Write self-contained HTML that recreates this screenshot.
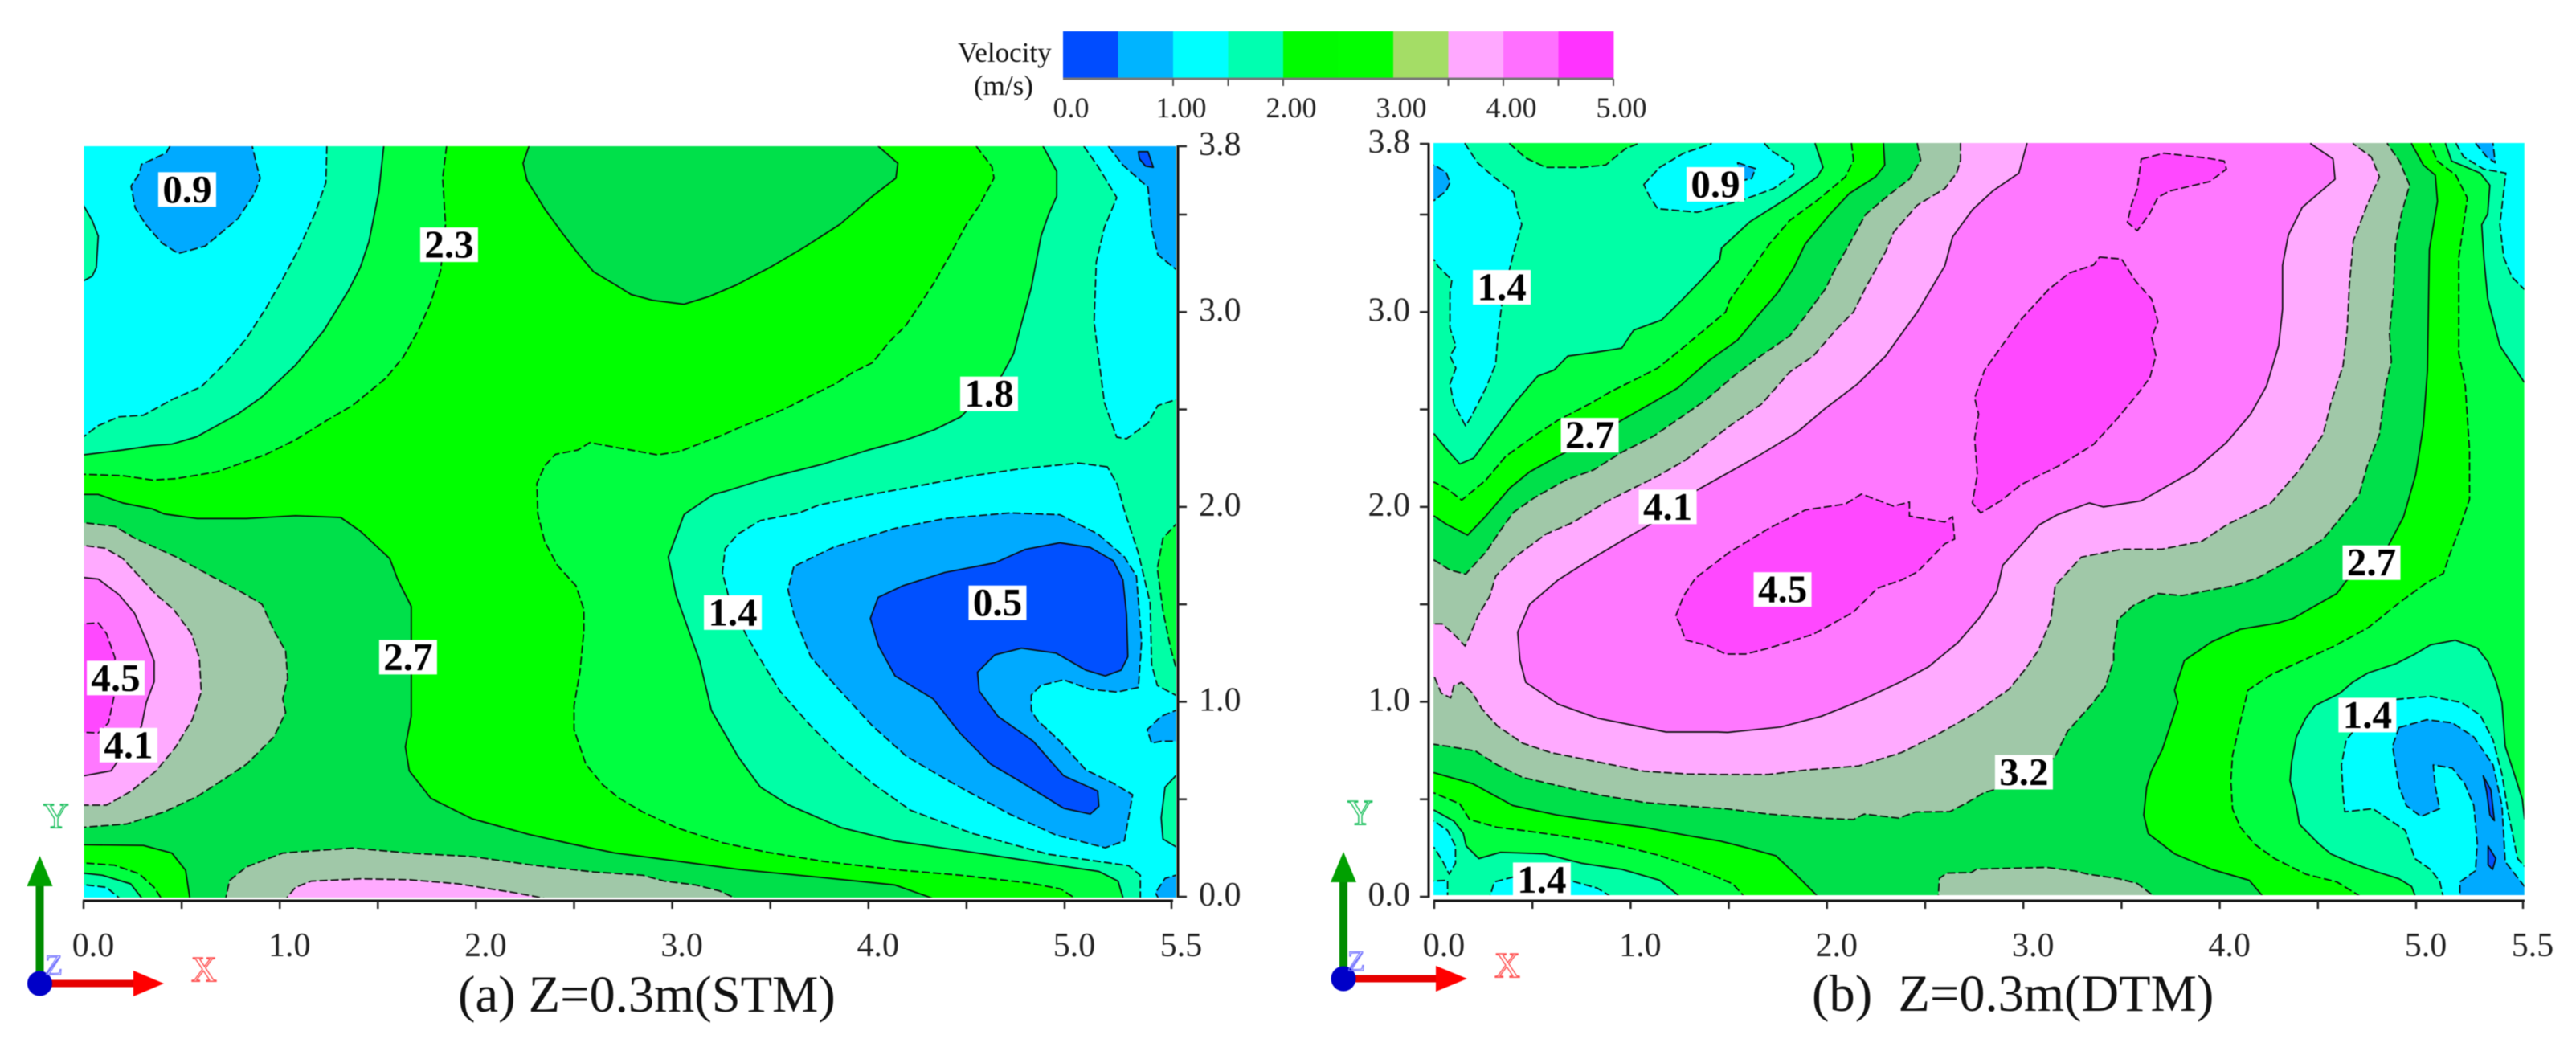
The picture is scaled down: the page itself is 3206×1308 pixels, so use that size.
<!DOCTYPE html>
<html lang="en">
<head>
<meta charset="utf-8">
<title>Velocity contours at Z=0.3m, STM and DTM</title>
<style>
html,body{margin:0;padding:0;background:#fff}
svg{display:block;filter:blur(.6px)}
text{font-family:"Liberation Serif",serif}
</style>
</head>
<body>
<svg id="chart" xmlns="http://www.w3.org/2000/svg" width="3206" height="1308" viewBox="0 0 3206 1308" fill="#111">
<rect width="3206" height="1308" fill="#fff"/>
<defs>
<clipPath id="clip-a"><rect x="104.6" y="182" width="1359" height="935"/></clipPath>
<clipPath id="clip-b"><rect x="1784" y="178" width="1357.6" height="936"/></clipPath>
</defs>
<g id="legend">
<text x="1192" y="77" font-size="35">Velocity</text>
<text x="1212" y="118" font-size="35">(m/s)</text>
</g>
<g id="panel-a"></g>
<g id="panel-b"></g>
<text x="570" y="1259" font-size="64.5">(a) Z=0.3m(STM)</text>
<text x="2255" y="1258" font-size="64.5">(b)&#160;&#160;Z=0.3m(DTM)</text>
</svg>
<script>
/* ---------- legend values ---------- */
const legendBins = [0,0.5,1,1.5,2,2.5,3,3.5,4,4.5];
const legendColors = ["#004cff","#00b4ff","#00ffff","#00ffb0","#00fc00","#00ff00","#a4dd66","#ffa8ff","#ff70ff","#ff33ff"];
const legendTickValues = [1,1.5,2,3.5,4,4.5,5];
const legendLabelValues = [0,1,2,3,4,5];
const legendLabels = ["0.0","1.00","2.00","3.00","4.00","5.00"];

/* ---------- axis values ---------- */
const xTickValues = [0,0.5,1,1.5,2,2.5,3,3.5,4,4.5,5,5.5];
const yTickValues = [0,0.5,1,1.5,2,2.5,3,3.5,3.8];
const xLabelValues = [0,1,2,3,4,5,5.5];
const xLabels = ["0.0","1.0","2.0","3.0","4.0","5.0","5.5"];
const yLabelValues = [0,1,2,3,3.8];
const yLabels = ["0.0","1.0","2.0","3.0","3.8"];

/* ---------- contour band fills, keyed by lower velocity bound ---------- */
const bandFill = {"0.0":"#0050ff","0.5":"#00aaff","0.9":"#00ffff","1.4":"#00ffa6","1.8":"#00ff40","2.3":"#00ff00","2.7":"#00e04a","3.2":"#a0c8a8","3.6":"#ffaaff","4.1":"#ff78ff","4.5":"#ff48ff"};
const dashedLevels = ["0.5","0.9","1.8","2.3","3.2","3.6","4.5"];

/* ---------- (a) STM contours: x (m), y (m) ---------- */
const stmTopUpper23 = [[1.85,3.9],[1.85,3.80],[1.83,3.66],[1.845,3.45],[1.82,3.213],[1.77,3.05],[1.705,2.904],[1.63,2.77],[1.54,2.66],[1.37,2.52],[1.245,2.447],[1.08,2.344],[.93,2.27],[.83,2.233],[.68,2.18],[.47,2.145],[.35,2.138],[.2,2.16],[0,2.167],[-.1,2.167],[-.1,3.9]];
const stmRight23 = [[4.55,3.9],[4.55,3.80],[4.63,3.71],[4.64,3.66],[4.565,3.54],[4.50,3.45],[4.42,3.30],[4.335,3.15],[4.27,3.05],[4.19,2.93],[4.105,2.845],[4.02,2.74],[3.92,2.69],[3.83,2.63],[3.71,2.572],[3.58,2.506],[3.48,2.462],[3.35,2.41],[3.25,2.366],[3.13,2.32],[3.04,2.285],[2.925,2.267],[2.81,2.288],[2.666,2.314],[2.58,2.33],[2.52,2.292],[2.405,2.27],[2.35,2.21],[2.31,2.12],[2.315,1.964],[2.35,1.823],[2.415,1.70],[2.51,1.595],[2.55,1.472],[2.55,1.366],[2.53,1.155],[2.50,.98],[2.50,.857],[2.56,.68],[2.645,.575],[2.73,.505],[2.85,.435],[3.02,.355],[3.256,.277],[3.49,.227],[3.78,.18],[4.135,.139],[4.47,.11],[4.82,.07],[4.98,.04],[5.08,-.03],[5.7,-.03],[5.7,3.9]];
const stmUpper18 = [[1.53,3.9],[1.53,3.80],[1.505,3.6],[1.454,3.36],[1.41,3.228],[1.35,3.11],[1.224,2.904],[1.08,2.727],[.91,2.565],[.786,2.476],[.577,2.36],[.45,2.322],[.347,2.314],[.2,2.292],[0,2.267],[-.1,2.267],[-.1,3.9]];
const stmRight18 = [[4.89,3.9],[4.89,3.80],[4.96,3.69],[4.96,3.58],[4.92,3.505],[4.88,3.39],[4.83,3.125],[4.77,2.904],[4.74,2.786],[4.68,2.675],[4.47,2.462],[4.335,2.395],[4.19,2.344],[4.0,2.292],[3.77,2.22],[3.50,2.152],[3.27,2.08],[3.21,2.064],[3.08,1.975],[3.06,1.96],[2.98,1.743],[3.02,1.546],[3.14,1.21],[3.2,.956],[3.335,.72],[3.45,.562],[3.59,.473],[3.86,.355],[4.136,.286],[4.53,.228],[4.92,.168],[5.16,.13],[5.25,.08],[5.28,-.03],[5.7,-.03],[5.7,3.9]];
const stmUpper14 = [[1.24,3.9],[1.24,3.80],[1.235,3.64],[1.18,3.507],[1.1,3.33],[1.015,3.17],[.93,3.02],[.827,2.86],[.723,2.74],[.6,2.616],[.45,2.55],[.305,2.47],[.18,2.462],[.075,2.417],[0,2.36],[-.1,2.36],[-.1,3.9]];
const stmRightTop14 = [[5.09,3.9],[5.09,3.80],[5.157,3.71],[5.244,3.574],[5.186,3.434],[5.148,3.257],[5.138,2.948],[5.186,2.535],[5.244,2.358],[5.29,2.35],[5.39,2.43],[5.436,2.52],[5.52,2.55],[5.7,2.55],[5.7,3.9]];
const stmRightLow14 = [[5.2,2.205],[5.066,2.225],[4.78,2.196],[4.507,2.156],[4.25,2.107],[3.98,2.058],[3.745,2.009],[3.647,1.969],[3.45,1.93],[3.335,1.861],[3.27,1.786],[3.256,1.664],[3.286,1.546],[3.374,1.35],[3.43,1.25],[3.55,1.054],[3.706,.877],[3.86,.72],[4.02,.582],[4.214,.444],[4.526,.326],[4.917,.218],[5.3,.159],[5.354,.11],[5.354,-.03],[5.7,-.03],[5.7,1.03],[5.52,1.034],[5.434,1.084],[5.407,1.192],[5.4,1.507],[5.345,1.763],[5.28,1.98],[5.246,2.117]];
const stmLeftPatch18 = [[-.1,3.54],[0,3.54],[.044,3.47],[.075,3.39],[.065,3.228],[.044,3.184],[0,3.16],[-.1,3.16]];
const stmEdgePatch23 = [[5.7,1.91],[5.52,1.91],[5.46,1.84],[5.434,1.684],[5.46,1.467],[5.497,1.27],[5.52,1.18],[5.7,1.18]];
const stmEdgePatch18 = [[5.7,.621],[5.52,.621],[5.47,.562],[5.452,.405],[5.46,.296],[5.52,.257],[5.7,.257]];
const stmTopLeft09 = [[.44,3.9],[.44,3.80],[.42,3.77],[.295,3.72],[.284,3.68],[.242,3.625],[.263,3.53],[.316,3.45],[.40,3.353],[.483,3.30],[.62,3.338],[.70,3.405],[.786,3.478],[.87,3.59],[.90,3.66],[.88,3.725],[.86,3.80],[.86,3.9]];
const stmTopRight09 = [[5.205,3.9],[5.205,3.80],[5.27,3.72],[5.39,3.62],[5.407,3.43],[5.436,3.294],[5.52,3.22],[5.7,3.22],[5.7,3.9]];
const stmMain09 = [[3.62,1.694],[3.59,1.576],[3.62,1.448],[3.706,1.231],[3.84,1.074],[4.02,.877],[4.194,.72],[4.448,.572],[4.72,.424],[4.956,.316],[5.19,.251],[5.28,.287],[5.318,.523],[5.228,.582],[5.10,.65],[4.976,.798],[4.86,.907],[4.83,.956],[4.83,1.034],[4.878,1.084],[4.995,1.113],[5.12,1.064],[5.246,1.05],[5.345,1.074],[5.36,1.31],[5.336,1.644],[5.28,1.743],[5.156,1.861],[4.976,1.96],[4.72,1.969],[4.39,1.94],[4.136,1.89],[3.82,1.792]];
const stmEdge09 = [[5.7,.956],[5.52,.956],[5.452,.926],[5.386,.857],[5.407,.788],[5.452,.798],[5.52,.798],[5.7,.798]];
const stmCorner09 = [[5.7,.11],[5.52,.11],[5.47,.094],[5.425,.02],[5.45,-.03],[5.7,-.03]];
const stmMain05 = [[4.05,1.536],[4.01,1.428],[4.05,1.29],[4.136,1.133],[4.33,1.015],[4.468,.838],[4.624,.68],[4.76,.60],[4.995,.454],[5.12,.424],[5.16,.464],[5.155,.542],[4.995,.621],[4.84,.798],[4.66,.926],[4.565,1.054],[4.556,1.152],[4.644,1.241],[4.78,1.275],[4.956,1.25],[5.1,1.162],[5.19,1.133],[5.264,1.162],[5.296,1.231],[5.29,1.448],[5.273,1.625],[5.228,1.723],[5.12,1.792],[4.976,1.816],[4.80,1.782],[4.644,1.713],[4.39,1.664],[4.175,1.595]];
const stmTop05 = [[5.345,3.776],[5.39,3.776],[5.415,3.707],[5.378,3.713],[5.35,3.745]];
const stmTop27 = [[2.27,3.9],[2.27,3.80],[2.24,3.725],[2.26,3.65],[2.35,3.525],[2.44,3.405],[2.52,3.30],[2.60,3.206],[2.71,3.14],[2.79,3.09],[2.9,3.06],[3.06,3.04],[3.19,3.08],[3.33,3.14],[3.5,3.23],[3.67,3.33],[3.855,3.45],[4.02,3.58],[4.14,3.66],[4.15,3.725],[4.05,3.80],[4.05,3.9]];
const stmLeft27 = [[-.1,2.064],[.075,2.064],[.2,2.02],[.35,1.99],[.41,1.964],[.58,1.94],[.83,1.94],[1.08,1.955],[1.31,1.946],[1.41,1.876],[1.56,1.735],[1.60,1.63],[1.67,1.49],[1.67,1.26],[1.67,1.085],[1.67,.927],[1.64,.769],[1.66,.646],[1.77,.505],[1.98,.40],[2.27,.32],[2.50,.268],[2.71,.224],[2.85,.206],[3.35,.139],[3.745,.10],[4.135,.06],[4.39,-.03],[.545,-.03],[.52,.136],[.45,.224],[.305,.263],[-.1,.268]];
const stmLeft32 = [[-.1,1.93],[.16,1.90],[.26,1.84],[.47,1.744],[.66,1.64],[.81,1.56],[.91,1.50],[.97,1.366],[1.03,1.26],[1.04,1.12],[1.015,1.015],[1.03,.945],[.97,.82],[.83,.68],[.70,.593],[.58,.514],[.41,.435],[.22,.373],[0,.356],[-.1,.356]];
const stmBottom32 = [[.72,-.03],[.744,.083],[.83,.153],[1.015,.224],[1.12,.232],[1.37,.25],[1.66,.224],[1.98,.206],[2.29,.162],[2.60,.127],[2.85,.11],[2.96,.08],[3.12,.06],[3.24,.03],[3.37,-.03]];
const stmLeft36 = [[-.1,1.815],[.11,1.788],[.2,1.735],[.28,1.648],[.37,1.55],[.46,1.472],[.55,1.35],[.59,1.226],[.6,1.05],[.555,.91],[.47,.769],[.37,.646],[.24,.54],[.117,.47],[-.1,.47]];
const stmBottom36 = [[1.015,-.03],[1.08,.048],[1.16,.08],[1.41,.092],[1.66,.087],[1.91,.066],[2.19,.022],[2.47,-.03]];
const stmLeft41 = [[-.1,1.648],[.075,1.63],[.18,1.55],[.26,1.454],[.32,1.314],[.36,1.208],[.36,1.103],[.32,.997],[.295,.874],[.2,.733],[.14,.646],[-.1,.602]];
const stmLeft45 = [[-.1,1.393],[.075,1.405],[.117,1.35],[.16,1.226],[.16,1.05],[.127,.892],[.075,.84],[-.1,.848]];
const stmCorner18 = [[-.1,.18],[.157,.162],[.283,.118],[.36,.048],[.41,-.03],[-.1,-.03]];
const stmCorner14 = [[-.1,.132],[.096,.11],[.24,.066],[.315,-.03],[-.1,-.03]];
const stmCorner09Low = [[-.1,.074],[.117,.048],[.21,-.03],[-.1,-.03]];

/* ---------- (b) DTM contours: x (m), y (m) ---------- */
const dtmUpper14 = [[1.94,3.9],[1.94,3.8],[1.98,3.70],[1.95,3.66],[1.81,3.576],[1.606,3.462],[1.463,3.328],[1.453,3.267],[1.36,3.164],[1.26,3.06],[1.158,2.959],[1.016,2.907],[.955,2.815],[.832,2.795],[.68,2.774],[.61,2.702],[.527,2.671],[.405,2.528],[.283,2.363],[.2,2.25],[.13,2.22],[.06,2.30],[0,2.374],[-.1,2.374],[-.1,3.9]];
const dtmTopLobe18 = [[.385,3.9],[.385,3.8],[.466,3.74],[.568,3.70],[.75,3.70],[.873,3.71],[.975,3.78],[1.036,3.8],[1.036,3.9]];
const dtmLower14 = [[-.1,.444],[0,.444],[.1,.388],[.148,.325],[.163,.26],[.227,.196],[.338,.228],[.56,.22],[.75,.172],[.957,.14],[1.147,.085],[1.29,-.03],[-.1,-.03]];
const dtmLeft09 = [[.157,3.9],[.157,3.8],[.22,3.72],[.303,3.66],[.405,3.593],[.425,3.508],[.446,3.45],[.405,3.307],[.375,3.185],[.344,3.04],[.324,2.877],[.313,2.733],[.263,2.61],[.19,2.466],[.16,2.415],[.1,2.528],[.08,2.63],[.11,2.712],[.08,2.774],[.11,2.825],[.08,2.918],[.08,3.10],[.09,3.164],[.018,3.236],[0,3.267],[-.1,3.267],[-.1,3.9]];
const dtmTopCenter09 = [[1.067,3.627],[1.148,3.70],[1.27,3.76],[1.41,3.8],[1.41,3.9],[1.683,3.9],[1.683,3.8],[1.718,3.77],[1.83,3.71],[1.83,3.67],[1.728,3.61],[1.565,3.56],[1.34,3.51],[1.138,3.525],[1.097,3.576]];
const dtmLowLeft09 = [[-.1,.388],[0,.388],[.068,.34],[.108,.26],[.108,.172],[.076,.116],[.044,.18],[0,.252],[-.1,.252]];
const dtmCornerLeft09 = [[-.1,.076],[.068,.084],[.068,-.03],[-.1,-.03]];
const dtmBottom09 = [[.274,-.03],[.306,.076],[.40,.10],[.51,.10],[.687,.084],[.83,.044],[.95,-.03]];
const dtmLeft05 = [[-.1,3.71],[0,3.71],[.06,3.68],[.08,3.636],[.06,3.60],[0,3.56],[-.1,3.56]];
const dtmTop05 = [[1.545,3.72],[1.636,3.695],[1.616,3.653],[1.565,3.644]];
const dtmLowRight14 = [[4.485,.98],[4.438,.916],[4.39,.82],[4.366,.692],[4.358,.596],[4.39,.468],[4.406,.372],[4.5,.276],[4.565,.22],[4.676,.172],[4.787,.132],[4.913,.092],[4.977,.052],[5.008,-.03],[5.7,-.03],[5.7,.40],[5.507,.40],[5.497,.50],[5.46,.628],[5.417,.772],[5.402,.996],[5.373,1.108],[5.337,1.204],[5.286,1.276],[5.184,1.316],[5.067,1.292],[4.993,1.244],[4.898,1.196],[4.755,1.148],[4.676,1.10],[4.612,1.044]];
const dtmLowRight09 = [[4.897,1.012],[5.067,1.028],[5.213,.996],[5.30,.932],[5.36,.804],[5.402,.628],[5.43,.436],[5.475,.196],[5.507,.156],[5.7,.156],[5.7,-.03],[5.133,-.03],[5.11,.08],[5.067,.14],[4.994,.196],[4.945,.34],[4.78,.452],[4.637,.436],[4.628,.524],[4.62,.676],[4.644,.804],[4.676,.844]];
const dtmLowRight05 = [[4.913,.868],[5.05,.908],[5.17,.892],[5.27,.82],[5.36,.676],[5.402,.468],[5.417,.18],[5.507,.052],[5.7,.052],[5.7,-.03],[5.205,-.03],[5.205,.076],[5.278,.133],[5.286,.276],[5.27,.468],[5.227,.58],[5.17,.66],[5.08,.676],[5.09,.564],[5.11,.452],[5.023,.412],[4.95,.468],[4.913,.564],[4.89,.708],[4.88,.772]];
const dtmDeepLow = [[5.337,.26],[5.373,.196],[5.358,.14],[5.337,.164]];
const dtmDeepMid = [[5.314,.62],[5.35,.548],[5.366,.39],[5.345,.42],[5.33,.54]];
const dtmUpRight14 = [[5.138,3.9],[5.138,3.8],[5.166,3.727],[5.30,3.676],[5.345,3.624],[5.335,3.503],[5.307,3.448],[5.317,3.28],[5.335,3.07],[5.392,2.827],[5.505,2.641],[5.7,2.641],[5.7,3.9]];
const dtmUpRight09 = [[5.188,3.9],[5.188,3.8],[5.222,3.745],[5.316,3.693],[5.42,3.676],[5.392,3.448],[5.41,3.28],[5.448,3.18],[5.505,3.117],[5.7,3.117],[5.7,3.9]];
const dtmUpRight05 = [[5.28,3.9],[5.28,3.8],[5.33,3.745],[5.37,3.72],[5.36,3.8],[5.36,3.9]];
const dtmGreen23 = [[2.125,3.9],[2.125,3.8],[2.135,3.73],[2.094,3.66],[1.95,3.56],[1.81,3.47],[1.708,3.35],[1.606,3.205],[1.504,3.06],[1.484,3.0],[1.362,2.897],[1.24,2.795],[1.138,2.712],[1.016,2.65],[.894,2.589],[.79,2.528],[.63,2.445],[.507,2.363],[.364,2.26],[.263,2.138],[.14,2.035],[.06,2.097],[0,2.127],[-.1,2.127],[-.1,.532],[0,.532],[.13,.476],[.18,.396],[.32,.356],[.45,.34],[.62,.316],[.83,.284],[.99,.252],[1.147,.212],[1.306,.156],[1.425,.107],[1.52,.066],[1.607,-.03],[4.72,-.03],[4.72,0],[4.596,.076],[4.438,.116],[4.28,.196],[4.18,.268],[4.105,.356],[4.065,.452],[4.057,.596],[4.065,.724],[4.105,.90],[4.144,1.06],[4.263,1.14],[4.44,1.22],[4.58,1.284],[4.755,1.38],[4.914,1.508],[5.05,1.612],[5.128,1.659],[5.156,1.752],[5.2,1.876],[5.25,2.04],[5.25,2.29],[5.23,2.62],[5.2,2.786],[5.2,2.97],[5.2,3.28],[5.24,3.57],[5.186,3.667],[5.10,3.727],[5.065,3.8],[5.065,3.9]];
const dtmDark27 = [[2.288,3.9],[2.288,3.8],[2.294,3.71],[2.247,3.66],[2.115,3.59],[2.013,3.5],[1.89,3.35],[1.83,3.226],[1.75,3.10],[1.647,2.98],[1.545,2.856],[1.402,2.753],[1.24,2.61],[1.117,2.538],[.955,2.445],[.79,2.343],[.63,2.26],[.486,2.18],[.385,2.097],[.263,1.953],[.17,1.855],[.06,1.912],[0,1.953],[-.1,1.953],[-.1,.636],[0,.636],[.195,.58],[.40,.468],[.62,.42],[.83,.388],[1.068,.356],[1.289,.314],[1.453,.286],[1.59,.252],[1.74,.21],[1.848,.107],[1.985,-.03],[4.247,-.03],[4.15,.084],[3.96,.14],[3.77,.22],[3.636,.324],[3.613,.42],[3.628,.564],[3.652,.644],[3.708,.756],[3.787,.996],[3.77,1.06],[3.82,1.212],[3.96,1.308],[4.104,1.372],[4.295,1.404],[4.374,1.428],[4.596,1.556],[4.644,1.62],[4.854,1.793],[4.936,1.949],[4.998,2.166],[5.034,2.414],[5.053,2.70],[5.062,3.32],[5.10,3.556],[5.09,3.667],[5.034,3.71],[4.977,3.8],[4.977,3.9]];
const dtmSage32 = [[2.46,3.9],[2.46,3.8],[2.477,3.73],[2.42,3.65],[2.318,3.585],[2.196,3.5],[2.115,3.35],[2.033,3.205],[1.993,3.12],[1.89,2.98],[1.81,2.877],[1.647,2.764],[1.524,2.67],[1.382,2.548],[1.28,2.476],[1.117,2.363],[.955,2.28],[.812,2.19],[.67,2.138],[.507,2.045],[.405,1.973],[.344,1.89],[.263,1.768],[.16,1.655],[.08,1.676],[0,1.727],[-.1,1.727],[-.1,.796],[.068,.772],[.21,.748],[.322,.676],[.45,.612],[.62,.572],[.83,.524],[1.068,.484],[1.289,.465],[1.49,.451],[1.70,.424],[1.97,.403],[2.135,.396],[2.19,.424],[2.367,.403],[2.45,.435],[2.626,.437],[2.708,.479],[2.80,.534],[2.87,.554],[3.0,.62],[3.158,.713],[3.226,.85],[3.349,.988],[3.417,1.077],[3.46,1.214],[3.46,1.277],[3.48,1.42],[3.56,1.494],[3.685,1.556],[3.808,1.545],[4.075,1.597],[4.197,1.638],[4.403,1.752],[4.526,1.835],[4.628,1.959],[4.71,2.062],[4.75,2.207],[4.813,2.372],[4.844,2.62],[4.874,2.745],[4.864,2.89],[4.885,3.117],[4.895,3.344],[4.926,3.505],[4.967,3.625],[4.915,3.727],[4.854,3.8],[4.854,3.9]];
const dtmBottomSage32 = [[2.565,-.03],[2.572,.094],[2.612,.121],[2.735,.124],[2.762,.142],[3.117,.151],[3.267,.131],[3.327,.116],[3.486,.092],[3.58,.068],[3.708,-.03]];
const dtmPink36 = [[2.68,3.9],[2.68,3.8],[2.68,3.73],[2.66,3.676],[2.6,3.61],[2.46,3.54],[2.34,3.41],[2.298,3.308],[2.196,3.123],[2.135,3.0],[2.054,2.918],[1.93,2.774],[1.81,2.692],[1.667,2.528],[1.504,2.415],[1.28,2.24],[1.138,2.158],[1.016,2.097],[.873,2.025],[.71,1.922],[.568,1.86],[.405,1.738],[.313,1.645],[.283,1.543],[.222,1.44],[.18,1.337],[.157,1.286],[.1,1.347],[.04,1.40],[0,1.40],[-.1,1.40],[-.1,1.13],[0,1.13],[.036,1.044],[.084,1.02],[.1,1.084],[.14,1.10],[.195,1.044],[.243,.964],[.322,.876],[.45,.788],[.592,.74],[.83,.692],[1.068,.644],[1.289,.63],[1.466,.627],[1.70,.627],[1.89,.65],[2.162,.671],[2.38,.74],[2.558,.83],[2.749,.94],[2.926,1.063],[3.008,1.166],[3.076,1.263],[3.14,1.42],[3.162,1.597],[3.295,1.742],[3.50,1.783],[3.705,1.783],[3.91,1.824],[4.034,1.907],[4.26,2.02],[4.403,2.186],[4.526,2.372],[4.567,2.538],[4.628,2.724],[4.649,2.91],[4.66,3.137],[4.68,3.365],[4.75,3.54],[4.813,3.66],[4.772,3.744],[4.68,3.8],[4.68,3.9]];
const dtmPink41 = [[3.018,3.9],[3.018,3.8],[2.977,3.676],[2.844,3.6],[2.74,3.52],[2.64,3.386],[2.6,3.236],[2.46,3.0],[2.298,2.774],[2.155,2.63],[1.993,2.507],[1.85,2.384],[1.647,2.26],[1.504,2.179],[1.34,2.087],[1.138,1.932],[.995,1.85],[.79,1.727],[.63,1.625],[.486,1.50],[.425,1.358],[.436,1.214],[.466,1.10],[.63,.988],[.832,.916],[1.036,.875],[1.18,.845],[1.443,.845],[1.494,.843],[1.766,.871],[1.971,.926],[2.176,1.008],[2.38,1.105],[2.517,1.18],[2.667,1.304],[2.783,1.44],[2.865,1.566],[2.895,1.70],[3.08,1.907],[3.172,1.959],[3.336,2.02],[3.408,2.0],[3.6,2.031],[3.87,2.186],[4.034,2.33],[4.157,2.476],[4.238,2.62],[4.3,2.827],[4.32,3.014],[4.32,3.24],[4.35,3.396],[4.42,3.53],[4.587,3.65],[4.577,3.736],[4.464,3.8],[4.464,3.9]];
const dtmLobeLow45 = [[1.23,1.44],[1.27,1.543],[1.33,1.635],[1.504,1.768],[1.708,1.892],[1.89,1.984],[2.094,2.015],[2.176,2.066],[2.339,2.004],[2.42,2.025],[2.42,1.953],[2.6,1.922],[2.64,1.95],[2.65,1.835],[2.6,1.81],[2.46,1.666],[2.38,1.625],[2.257,1.583],[2.135,1.46],[1.93,1.347],[1.707,1.276],[1.586,1.245],[1.484,1.245],[1.40,1.286],[1.28,1.317],[1.25,1.40]];
const dtmLobeMid45 = [[3.388,3.282],[3.5,3.272],[3.572,3.158],[3.654,3.065],[3.685,2.951],[3.654,2.869],[3.675,2.776],[3.644,2.662],[3.582,2.579],[3.48,2.455],[3.357,2.32],[3.193,2.217],[2.988,2.114],[2.885,2.031],[2.783,1.969],[2.74,2.02],[2.766,2.166],[2.752,2.352],[2.772,2.476],[2.752,2.559],[2.803,2.703],[2.906,2.848],[2.988,2.962],[3.13,3.117],[3.234,3.2],[3.357,3.241]];
const dtmLobeTop45 = [[3.6,3.735],[3.716,3.76],[3.93,3.74],[4.023,3.727],[4.034,3.693],[3.95,3.64],[3.746,3.6],[3.685,3.573],[3.644,3.505],[3.58,3.417],[3.53,3.46],[3.55,3.54],[3.58,3.61]];

/* ---------- printed contour labels: data position and value ---------- */
const stmLabelText = ["0.9","2.3","1.8","1.4","0.5","2.7","4.5","4.1"];
const stmLabelX = [.528,1.863,4.615,3.309,4.658,1.654,.164,.229];
const stmLabelY = [3.61,3.345,2.58,1.458,1.508,1.229,1.122,.778];
const dtmLabelText = ["0.9","1.4","2.7","4.1","4.5","3.2","2.7","1.4","1.4"];
const dtmLabelX = [1.432,.344,.792,1.189,1.774,3.003,4.773,4.752,.548];
const dtmLabelY = [3.628,3.127,2.368,2.0,1.576,.639,1.714,.932,.087];

/* ---------- helpers ---------- */
const NS = "http://www.w3.org/2000/svg";
function make(parent, tag, attrs, text){
  const el = document.createElementNS(NS, tag);
  for (const k in attrs) el.setAttribute(k, attrs[k]);
  if (text !== undefined) el.textContent = text;
  parent.appendChild(el);
  return el;
}
function axisScale(dom, rng){
  return function(v){
    const i = v <= dom[1] ? 0 : 1;
    return rng[i] + (v - dom[i]) * (rng[i + 1] - rng[i]) / (dom[i + 1] - dom[i]);
  };
}
function drawBand(panel, name, pts, level){
  const d = pts.map(p => panel.x(p[0]).toFixed(1) + "," + panel.y(p[1]).toFixed(1)).join(" ");
  const el = make(panel.bands, "polygon", {points: d, fill: bandFill[level], stroke: "#0a0a0a", "stroke-width": "1.7", "stroke-linejoin": "round"});
  if (dashedLevels.indexOf(level) >= 0) el.setAttribute("stroke-dasharray", "10 4");
  
  
}
function drawContourLabels(panel, texts, xs, ys){
  texts.forEach(function(t, i){
    const cx = panel.x(xs[i]), cy = panel.y(ys[i]);
    const g = make(panel.root, "g", {});
    
    
    make(g, "rect", {x: cx - 36, y: cy - 21.5, width: 72, height: 43, fill: "#fff"});
    make(g, "text", {x: cx, y: cy + 16, "font-size": 49, "font-weight": "bold", "text-anchor": "middle", fill: "#000"}, t);
  });
}
function drawAxes(panel){
  const root = panel.root, a = panel.axis;
  const xg = make(root, "g", {});
  
  
  make(xg, "line", {x1: panel.x(0) - 1, x2: panel.x(5.5) + 2, y1: a.xLineY, y2: a.xLineY, stroke: "#111", "stroke-width": 3});
  xTickValues.forEach(function(v){
    const t = make(xg, "line", {x1: panel.x(v), x2: panel.x(v), y1: a.xLineY, y2: a.xLineY + 10, stroke: "#222", "stroke-width": 2.5});
    
    
  });
  xLabelValues.forEach(function(v, i){
    const t = make(xg, "text", {x: panel.x(v) + a.xLabelShift, y: 1190, "font-size": 42, "text-anchor": "middle", fill: "#222"}, xLabels[i]);
    
    
  });
  const yg = make(root, "g", {});
  
  
  make(yg, "line", {x1: a.yLineX, x2: a.yLineX, y1: panel.y(3.8) - 1, y2: panel.y(0) + 1, stroke: "#111", "stroke-width": 3});
  yTickValues.forEach(function(v){
    const t = make(yg, "line", {x1: a.yLineX, x2: a.yLineX + a.yTickDir * 11, y1: panel.y(v), y2: panel.y(v), stroke: "#222", "stroke-width": 2.5});
    
    
  });
  yLabelValues.forEach(function(v, i){
    const t = make(yg, "text", {x: a.yLabelX, y: panel.y(v) + 11, "font-size": 42, "text-anchor": a.yAnchor, fill: "#222"}, yLabels[i]);
    
    
  });
}
function drawTriad(root, ox, oy, yHeadBase, yTip, xHeadBase, xTip, yText, xText, zText){
  const g = make(root, "g", {});
  
  
  make(g, "rect", {x: ox - 5, y: yHeadBase, width: 10, height: oy - yHeadBase, fill: "#008c00"});
  make(g, "polygon", {points: (ox - 16) + "," + yHeadBase + " " + (ox + 16) + "," + yHeadBase + " " + ox + "," + yTip, fill: "#00a000"});
  make(g, "rect", {x: ox, y: oy - 4.5, width: xHeadBase - ox, height: 9, fill: "#e60000"});
  make(g, "polygon", {points: xHeadBase + "," + (oy - 16) + " " + xHeadBase + "," + (oy + 16) + " " + xTip + "," + oy, fill: "#ff0000"});
  make(g, "line", {x1: ox, y1: oy, x2: zText[0] + 18, y2: zText[1] - 22, stroke: "#6a6aff", "stroke-width": 1.5});
  make(g, "circle", {cx: ox, cy: oy, r: 15.5, fill: "#0000c8"});
  make(g, "text", {x: yText[0], y: yText[1], "font-size": 44, fill: "none", stroke: "#20c060", "stroke-width": 1.4}, "Y");
  make(g, "text", {x: xText[0], y: xText[1], "font-size": 44, fill: "none", stroke: "#ff5050", "stroke-width": 1.4}, "X");
  make(g, "text", {x: zText[0], y: zText[1], "font-size": 36, fill: "none", stroke: "#7a7aff", "stroke-width": 1.2}, "Z");
}

/* ---------- legend ---------- */
const legendRoot = document.getElementById("legend");
const legendX = axisScale([0, 4.5, 5], [1323, 1939.5, 2008]);
legendBins.forEach(function(v, i){
  const s = make(legendRoot, "rect", {x: legendX(v), y: 39, width: 68.9, height: 58, fill: legendColors[i]});
  
  
});
make(legendRoot, "line", {x1: 1323, x2: 2008, y1: 98, y2: 98, stroke: "#777", "stroke-width": 3});
legendTickValues.forEach(function(v){
  const t = make(legendRoot, "line", {x1: legendX(v), x2: legendX(v), y1: 98, y2: 107, stroke: "#555", "stroke-width": 2});
  
  
});
legendLabelValues.forEach(function(v, i){
  const t = make(legendRoot, "text", {x: legendX(v) + 10, y: 146, "font-size": 36, "text-anchor": "middle", fill: "#222"}, legendLabels[i]);
  
  
});

/* ---------- panel (a) ---------- */
const rootA = document.getElementById("panel-a");
const panelA = {root: rootA, x: axisScale([0, 5, 5.5], [104, 1325, 1458]), y: axisScale([0, 3.5, 3.8], [1116, 267, 182]),
  axis: {xLineY: 1121, xLabelShift: 12, yLineX: 1466, yTickDir: 1, yLabelX: 1492, yAnchor: "start"}};
panelA.bands = make(rootA, "g", {"clip-path": "url(#clip-a)"});


make(panelA.bands, "rect", {x: 100, y: 175, width: 1370, height: 950, fill: bandFill["2.3"]});
drawBand(panelA, "band-upper-1-8", stmTopUpper23, "1.8");
drawBand(panelA, "band-right-1-8", stmRight23, "1.8");
drawBand(panelA, "band-upper-1-4", stmUpper18, "1.4");
drawBand(panelA, "band-right-1-4", stmRight18, "1.4");
drawBand(panelA, "band-upper-0-9", stmUpper14, "0.9");
drawBand(panelA, "band-right-top-0-9", stmRightTop14, "0.9");
drawBand(panelA, "band-right-low-0-9", stmRightLow14, "0.9");
drawBand(panelA, "band-left-patch-1-4", stmLeftPatch18, "1.4");
drawBand(panelA, "band-edge-patch-1-8", stmEdgePatch23, "1.8");
drawBand(panelA, "band-edge-patch-1-4", stmEdgePatch18, "1.4");
drawBand(panelA, "band-top-left-0-5", stmTopLeft09, "0.5");
drawBand(panelA, "band-top-right-0-5", stmTopRight09, "0.5");
drawBand(panelA, "band-main-0-5", stmMain09, "0.5");
drawBand(panelA, "band-edge-0-5", stmEdge09, "0.5");
drawBand(panelA, "band-corner-0-5", stmCorner09, "0.5");
drawBand(panelA, "band-main-0-0", stmMain05, "0.0");
drawBand(panelA, "band-top-0-0", stmTop05, "0.0");
drawBand(panelA, "band-top-2-7", stmTop27, "2.7");
drawBand(panelA, "band-left-2-7", stmLeft27, "2.7");
drawBand(panelA, "band-left-3-2", stmLeft32, "3.2");
drawBand(panelA, "band-bottom-3-2", stmBottom32, "3.2");
drawBand(panelA, "band-left-3-6", stmLeft36, "3.6");
drawBand(panelA, "band-bottom-3-6", stmBottom36, "3.6");
drawBand(panelA, "band-left-4-1", stmLeft41, "4.1");
drawBand(panelA, "band-left-4-5", stmLeft45, "4.5");
drawBand(panelA, "band-corner-1-8", stmCorner18, "1.8");
drawBand(panelA, "band-corner-1-4", stmCorner14, "1.4");
drawBand(panelA, "band-corner-0-9", stmCorner09Low, "0.9");
drawContourLabels(panelA, stmLabelText, stmLabelX, stmLabelY);
drawAxes(panelA);
drawTriad(rootA, 49.5, 1224, 1103, 1065, 166, 204, [54, 1030], [238, 1221], [56, 1213]);

/* ---------- panel (b) ---------- */
const rootB = document.getElementById("panel-b");
const panelB = {root: rootB, x: axisScale([0, 5, 5.5], [1785, 3007, 3140]), y: axisScale([0, 3.5, 3.8], [1116, 267, 179]),
  axis: {xLineY: 1121, xLabelShift: 12, yLineX: 1778, yTickDir: -1, yLabelX: 1755, yAnchor: "end"}};
panelB.bands = make(rootB, "g", {"clip-path": "url(#clip-b)"});


make(panelB.bands, "rect", {x: 1780, y: 170, width: 1370, height: 950, fill: bandFill["1.8"]});
drawBand(panelB, "band-upper-1-4", dtmUpper14, "1.4");
drawBand(panelB, "band-top-lobe-1-8", dtmTopLobe18, "1.8");
drawBand(panelB, "band-lower-1-4", dtmLower14, "1.4");
drawBand(panelB, "band-left-0-9", dtmLeft09, "0.9");
drawBand(panelB, "band-top-center-0-9", dtmTopCenter09, "0.9");
drawBand(panelB, "band-low-left-0-9", dtmLowLeft09, "0.9");
drawBand(panelB, "band-corner-left-0-9", dtmCornerLeft09, "0.9");
drawBand(panelB, "band-bottom-0-9", dtmBottom09, "0.9");
drawBand(panelB, "band-left-0-5", dtmLeft05, "0.5");
drawBand(panelB, "band-top-0-5", dtmTop05, "0.5");
drawBand(panelB, "band-low-right-1-4", dtmLowRight14, "1.4");
drawBand(panelB, "band-low-right-0-9", dtmLowRight09, "0.9");
drawBand(panelB, "band-low-right-0-5", dtmLowRight05, "0.5");
drawBand(panelB, "band-deep-low-0-0", dtmDeepLow, "0.0");
drawBand(panelB, "band-deep-mid-0-0", dtmDeepMid, "0.0");
drawBand(panelB, "band-up-right-1-4", dtmUpRight14, "1.4");
drawBand(panelB, "band-up-right-0-9", dtmUpRight09, "0.9");
drawBand(panelB, "band-up-right-0-5", dtmUpRight05, "0.5");
drawBand(panelB, "band-green-2-3", dtmGreen23, "2.3");
drawBand(panelB, "band-dark-2-7", dtmDark27, "2.7");
drawBand(panelB, "band-sage-3-2", dtmSage32, "3.2");
drawBand(panelB, "band-bottom-sage-3-2", dtmBottomSage32, "3.2");
drawBand(panelB, "band-pink-3-6", dtmPink36, "3.6");
drawBand(panelB, "band-pink-4-1", dtmPink41, "4.1");
drawBand(panelB, "band-lobe-low-4-5", dtmLobeLow45, "4.5");
drawBand(panelB, "band-lobe-mid-4-5", dtmLobeMid45, "4.5");
drawBand(panelB, "band-lobe-top-4-5", dtmLobeTop45, "4.5");
drawContourLabels(panelB, dtmLabelText, dtmLabelX, dtmLabelY);
drawAxes(panelB);
drawTriad(rootB, 1672, 1218, 1098, 1060, 1787, 1826, [1677, 1026], [1860, 1216], [1677, 1208]);
</script>
</body>
</html>
